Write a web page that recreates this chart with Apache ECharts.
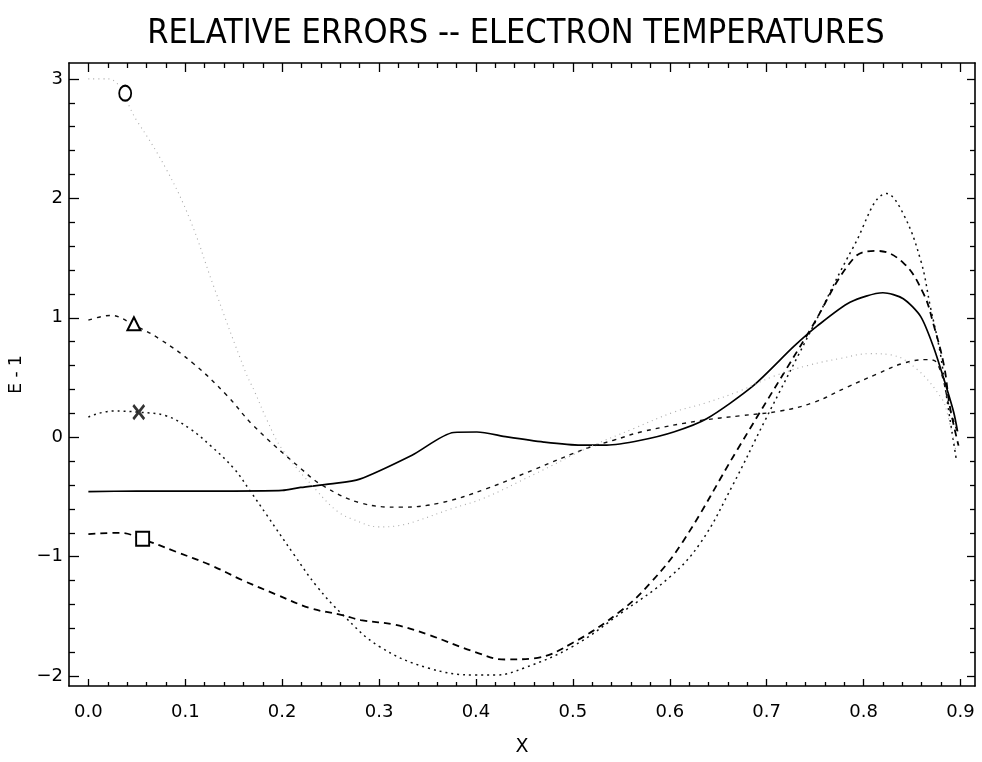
<!DOCTYPE html>
<html>
<head>
<meta charset="utf-8">
<script src="https://cdn.jsdelivr.net/npm/echarts@6/dist/echarts.min.js"></script>
<style>html,body{margin:0;padding:0;background:#fff}#c{width:982px;height:762px}</style>
</head>
<body>
<div id="c"></div>
<script>
// ---- data ----
const xTicks = [0.0, 0.1, 0.2, 0.3, 0.4, 0.5, 0.6, 0.7, 0.8, 0.9];
const yTicks = [-2, -1, 0, 1, 2, 3];

const solidX = [0, 0.05, 0.10, 0.15, 0.20, 0.219, 0.25, 0.28, 0.334, 0.377, 0.401, 0.432, 0.47, 0.508, 0.535, 0.57, 0.604, 0.638, 0.686, 0.728, 0.752, 0.786, 0.82, 0.841, 0.859, 0.872, 0.882, 0.893, 0.897];
const solidY = [-0.455, -0.45, -0.45, -0.45, -0.445, -0.42, -0.39, -0.35, -0.15, 0.04, 0.044, 0.003, -0.04, -0.066, -0.066, -0.025, 0.044, 0.155, 0.43, 0.76, 0.93, 1.13, 1.21, 1.16, 1.01, 0.76, 0.51, 0.21, 0.05];

const triX = [0, 0.023, 0.047, 0.074, 0.108, 0.143, 0.17, 0.219, 0.243, 0.281, 0.322, 0.363, 0.411, 0.46, 0.515, 0.542, 0.573, 0.632, 0.673, 0.714, 0.748, 0.783, 0.814, 0.841, 0.865, 0.876, 0.89, 0.898];
const triY = [0.98, 1.02, 0.94, 0.82, 0.62, 0.35, 0.1, -0.26, -0.41, -0.55, -0.585, -0.55, -0.43, -0.27, -0.09, -0.025, 0.05, 0.14, 0.18, 0.22, 0.29, 0.42, 0.53, 0.62, 0.65, 0.62, 0.21, 0.02];

const crossX = [0, 0.025, 0.052, 0.08, 0.105, 0.126, 0.150, 0.167, 0.184, 0.212, 0.236, 0.263, 0.30, 0.35, 0.40, 0.42, 0.45, 0.50, 0.55, 0.60, 0.632, 0.665, 0.697, 0.748, 0.79, 0.824, 0.841, 0.859, 0.869, 0.879, 0.886, 0.896];
const crossY = [0.17, 0.22, 0.21, 0.18, 0.07, -0.07, -0.26, -0.45, -0.65, -0.98, -1.25, -1.49, -1.75, -1.93, -1.99, -1.99, -1.93, -1.75, -1.47, -1.17, -0.88, -0.4, 0.12, 0.93, 1.6, 2.04, 1.87, 1.48, 1.09, 0.71, 0.32, -0.2];

const sqX = [0, 0.033, 0.055, 0.091, 0.126, 0.16, 0.195, 0.229, 0.263, 0.281, 0.317, 0.35, 0.40, 0.43, 0.46, 0.50, 0.55, 0.58, 0.613, 0.67, 0.745, 0.79, 0.814, 0.841, 0.862, 0.872, 0.883, 0.889, 0.898];
const sqY = [-0.81, -0.80, -0.85, -0.96, -1.07, -1.2, -1.32, -1.43, -1.49, -1.53, -1.57, -1.65, -1.8, -1.86, -1.85, -1.72, -1.45, -1.22, -0.88, -0.1, 0.9, 1.5, 1.56, 1.46, 1.2, 0.95, 0.6, 0.26, -0.07];

const circX = [0, 0.02, 0.05, 0.08, 0.105, 0.129, 0.162, 0.172, 0.184, 0.2, 0.236, 0.257, 0.274, 0.30, 0.32, 0.339, 0.374, 0.408, 0.46, 0.515, 0.563, 0.604, 0.638, 0.673, 0.707, 0.742, 0.776, 0.807, 0.828, 0.855, 0.881, 0.886, 0.895];
const circY = [3.0, 3.0, 2.65, 2.25, 1.82, 1.27, 0.55, 0.375, 0.15, -0.1, -0.45, -0.62, -0.69, -0.75, -0.74, -0.70, -0.6, -0.51, -0.31, -0.09, 0.074, 0.21, 0.29, 0.39, 0.51, 0.6, 0.66, 0.70, 0.69, 0.57, 0.32, 0.21, -0.1];

// marker positions (symbol labels on curves)
const markO = [0.038, 2.88];
const markTri = [0.047, 0.95];
const markX = [0.052, 0.21];
const markSq = [0.056, -0.85];

const titleText = 'RELATIVE ERRORS -- ELECTRON TEMPERATURES';
const xName = 'X';
const yName = 'E - 1';

// ---- layout ----
const XMIN = -0.02, XMAX = 0.915;
const YMIN = -2.082, YMAX = 3.133;
const FONT = 'DejaVu Sans';

function range(a, b, step) {
  const out = [];
  for (let v = a; v <= b + 1e-9; v += step) out.push(Math.round(v * 1000) / 1000);
  return out;
}
const xMinor = range(0, 0.9, 0.02).filter(v => Math.abs(v * 10 - Math.round(v * 10)) > 1e-6);
const yMinor = range(-2, 3, 0.2).filter(v => Math.abs(v - Math.round(v)) > 1e-6);

function pairs(xs, ys) { return xs.map((x, i) => [x, ys[i]]); }

function xAx(pos, vals, len, label, line) {
  return {
    type: 'value', position: pos, min: XMIN, max: XMAX,
    axisLine: { show: line, onZero: false, lineStyle: { color: '#000', width: 1.6 } },
    axisTick: { show: true, inside: true, length: len, customValues: vals, lineStyle: { color: '#000', width: 1.3 } },
    axisLabel: { show: label, customValues: vals, margin: 17, color: '#000', fontFamily: FONT, fontSize: 18,
      formatter: v => v.toFixed(1) },
    splitLine: { show: false }
  };
}
function yAx(pos, vals, len, label, line) {
  return {
    type: 'value', position: pos, min: YMIN, max: YMAX,
    axisLine: { show: line, onZero: false, lineStyle: { color: '#000', width: 1.6 } },
    axisTick: { show: true, inside: true, length: len, customValues: vals, lineStyle: { color: '#000', width: 1.3 } },
    axisLabel: { show: label, customValues: vals, margin: 6, color: '#000', fontFamily: FONT, fontSize: 18,
      formatter: v => (v < 0 ? '\u2212' + Math.abs(v) : String(v)) },
    splitLine: { show: false }
  };
}

const xAxes = [
  xAx('bottom', xTicks, 7, true, true),
  xAx('bottom', xMinor, 4, false, false),
  xAx('top', xTicks, 9, false, true),
  xAx('top', xMinor, 5, false, false)
];
xAxes[0].name = xName;
xAxes[0].nameLocation = 'middle';
xAxes[0].nameGap = 52;
xAxes[0].nameTextStyle = { color: '#000', fontFamily: FONT, fontSize: 19 };

const yAxes = [
  yAx('left', yTicks, 10, true, true),
  yAx('left', yMinor, 6, false, false),
  yAx('right', yTicks, 8, false, true),
  yAx('right', yMinor, 5, false, false)
];
yAxes[0].name = yName;
yAxes[0].nameLocation = 'middle';
yAxes[0].nameRotate = 90;
yAxes[0].nameGap = 33;
yAxes[0].nameTextStyle = { color: '#000', fontFamily: FONT, fontSize: 17 };

function lineSeries(name, xs, ys, dash, width, color, smooth) {
  return {
    name: name, type: 'line', xAxisIndex: 0, yAxisIndex: 0,
    data: pairs(xs, ys), showSymbol: false, smooth: smooth, silent: true,
    lineStyle: { color: color, width: width, type: dash, cap: 'butt' }, z: 3
  };
}
function markSeries(name, pt, symbol, size) {
  return {
    name: name, type: 'scatter', xAxisIndex: 0, yAxisIndex: 0, data: [pt],
    symbol: symbol, symbolSize: size, silent: true,
    itemStyle: { color: '#000', borderColor: '#000', borderWidth: 2.6, opacity: 1 }, z: 5
  };
}

const option = {
  animation: false,
  backgroundColor: '#fff',
  grid: { left: 69, right: 7, top: 63, bottom: 69, containLabel: false },
  graphic: [{
    type: 'text', x: 516, y: 34,
    style: { text: titleText, fill: '#000', align: 'center', verticalAlign: 'middle',
      font: '34px "DejaVu Sans Condensed", "Liberation Sans Narrow", "DejaVu Sans", sans-serif' }
  }],
  xAxis: xAxes,
  yAxis: yAxes,
  series: [
    lineSeries('solid', solidX, solidY, 'solid', 1.7, '#000', 0.25),
    lineSeries('tri', triX, triY, [4, 5], 1.4, '#111', 0.4),
    lineSeries('cross', crossX, crossY, [2, 4], 1.5, '#111', 0.4),
    lineSeries('square', sqX, sqY, [7, 5], 1.8, '#000', 0.4),
    lineSeries('circle', circX, circY, [1, 4], 1.1, '#aaa', 0.4),
    markSeries('O', markO, 'emptyCircle', [12, 15]),
    markSeries('tri', markTri, 'emptyTriangle', [13, 13]),
    {
      name: 'X', type: 'scatter', xAxisIndex: 0, yAxisIndex: 0, data: [markX],
      symbol: 'path://M0,0 L10,12 M10,0 L0,12', symbolSize: [11, 14], silent: true,
      itemStyle: { color: 'none', borderColor: '#000', borderWidth: 2.8 }, z: 5
    },
    markSeries('sq', markSq, 'emptyRect', [13, 14])
  ]
};

const chart = echarts.init(document.getElementById('c'), null, { renderer: 'canvas' });
chart.setOption(option);
</script>
</body>
</html>
